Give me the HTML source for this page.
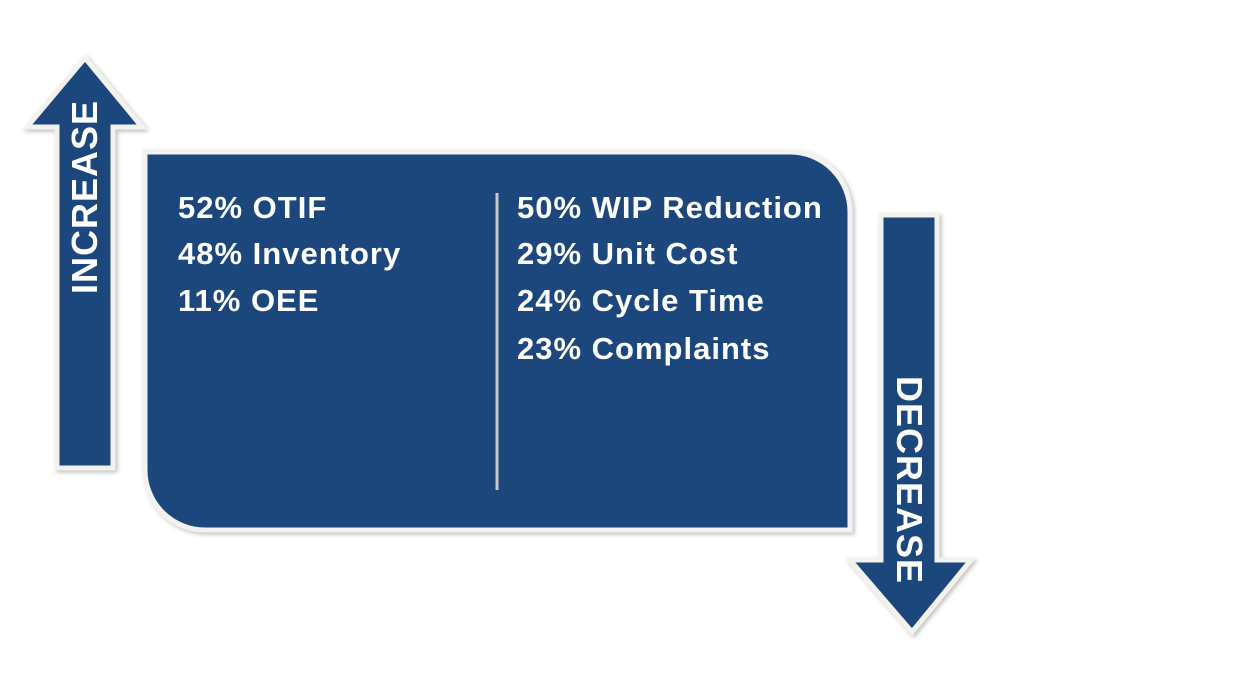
<!DOCTYPE html>
<html><head><style>
body{margin:0;width:1250px;height:686px;background:#fff;overflow:hidden;font-family:"Liberation Sans",Arial,sans-serif;}
svg{position:absolute;left:0;top:0}
.t{position:absolute;color:#fff;font-weight:bold;font-size:31px;letter-spacing:1px;white-space:nowrap;line-height:1}
</style></head><body>
<svg width="1250" height="686">
<defs><filter id="s" x="-10%" y="-10%" width="120%" height="120%"><feDropShadow dx="2" dy="2" stdDeviation="2" flood-color="#000" flood-opacity="0.25"/></filter></defs>
<g filter="url(#s)">
<polygon points="85,58 142,127 113,127 113,468 57,468 57,127 27,127" fill="#1f477c" stroke="#f2f2ee" stroke-width="5" stroke-linejoin="miter"/>
<path d="M145,152 H790 A60,60 0 0 1 850,212 V530 H205 A60,60 0 0 1 145,470 Z" fill="#1f477c" stroke="#f2f2ee" stroke-width="5"/>
<polygon points="881,215 937,215 937,560 971,560 912,632 850,560 881,560" fill="#1f477c" stroke="#f2f2ee" stroke-width="5" stroke-linejoin="miter"/>
</g>
<line x1="497" y1="193" x2="497" y2="490" stroke="#c8c8c8" stroke-width="3"/>
<text x="0" y="0" transform="translate(97,197) rotate(-90)" text-anchor="middle" fill="#fff" font-weight="bold" font-size="36" letter-spacing="1" font-family="Liberation Sans,Arial,sans-serif">INCREASE</text>
<text x="0" y="0" transform="translate(897,480) rotate(90)" text-anchor="middle" fill="#fff" font-weight="bold" font-size="36" letter-spacing="1" font-family="Liberation Sans,Arial,sans-serif">DECREASE</text>
</svg>
<div class="t" style="left:178px;top:192px">52% OTIF</div>
<div class="t" style="left:178px;top:238px">48% Inventory</div>
<div class="t" style="left:178px;top:285px">11% OEE</div>
<div class="t" style="left:517px;top:192px">50% WIP Reduction</div>
<div class="t" style="left:517px;top:238px">29% Unit Cost</div>
<div class="t" style="left:517px;top:285px">24% Cycle Time</div>
<div class="t" style="left:517px;top:333px">23% Complaints</div>
</body></html>
